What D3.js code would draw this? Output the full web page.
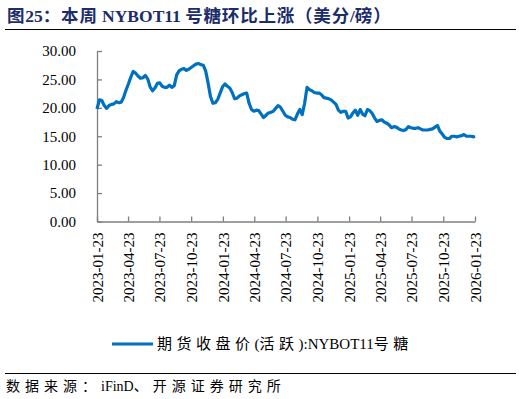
<!DOCTYPE html>
<html>
<head>
<meta charset="utf-8">
<script src="https://cdn.jsdelivr.net/npm/d3@7"></script>
<style>
  body { margin: 0; background: #fff; }
  svg { display: block; }
</style>
</head>
<body>
<svg id="chart"></svg>
<script>
// NYBOT11 sugar futures, weekly closes (US cents/lb)
const startDate = '2023-01-23';
const lastDate = '2026-01-23';
const lastValue = 15.0;
const weeklyValues = [
  19.8, 21.4, 21.3, 20.4, 19.9, 20.4, 20.6, 20.7, 21.1, 20.9,
  21.0, 21.8, 23.1, 24.2, 25.4, 26.4, 26.1, 25.6, 25.2, 25.3,
  25.7, 25.1, 23.7, 23.0, 23.5, 24.3, 24.4, 23.8, 23.6, 23.6,
  24.0, 23.6, 23.9, 25.8, 26.5, 26.8, 26.9, 26.6, 26.8, 27.1,
  27.4, 27.7, 27.8, 27.6, 27.5, 26.5, 24.4, 22.0, 20.8, 20.9,
  21.5, 22.6, 23.7, 24.2, 23.8, 23.5, 22.7, 21.6, 21.7, 22.1,
  22.3, 22.5, 22.6, 20.8, 19.7, 19.4, 19.6, 19.5, 18.9, 18.3,
  18.7, 19.1, 19.2, 19.4, 19.9, 20.4, 20.1, 19.4, 18.7, 18.4,
  18.3, 18.0, 17.9, 18.9, 19.7, 18.8, 20.8, 23.6, 23.2, 23.0,
  22.7, 22.6, 22.6, 22.3, 21.8, 21.7, 21.6, 21.4, 21.0, 20.6,
  19.6, 19.2, 19.4, 19.4, 18.2, 18.4, 19.1, 19.6, 18.7, 19.7,
  18.9, 18.6, 19.7, 19.5, 19.0, 18.2, 17.6, 17.8, 17.9, 17.5,
  17.3, 17.0, 16.5, 16.7, 16.6, 16.3, 16.1, 16.0, 16.2, 16.7,
  16.5, 16.4, 16.4, 16.5, 16.3, 16.1, 16.1, 16.1, 16.2, 16.3,
  16.6, 16.9, 15.9, 15.4, 14.8, 14.6, 14.6, 15.0, 15.0, 14.9,
  15.0, 15.1, 15.3, 15.0, 15.0, 15.0, 14.9
];
const xTickDates = [
  '2023-01-23', '2023-04-23', '2023-07-23', '2023-10-23',
  '2024-01-23', '2024-04-23', '2024-07-23', '2024-10-23',
  '2025-01-23', '2025-04-23', '2025-07-23', '2025-10-23', '2026-01-23'
];
const yTicks = [0, 5, 10, 15, 20, 25, 30];

const titleText = '图25：本周 NYBOT11 号糖环比上涨（美分/磅）';
const seriesName = '期货收盘价(活跃):NYBOT11号糖';
const sourceText = '数据来源：iFinD、开源证券研究所';

const parseDate = d3.timeParse('%Y-%m-%d');
const start = parseDate(startDate);
const data = weeklyValues.map((v, i) => ({ date: d3.timeWeek.offset(start, i), value: v }));
data.push({ date: parseDate(lastDate), value: lastValue });

const width = 522;
const height = 399;
const margin = { top: 51, left: 97 };
const chartWidth = 475 - margin.left;
const chartHeight = 221.5 - margin.top;

const serif = '"Times New Roman", "Liberation Serif", "Noto Sans CJK SC", serif';

// split a string into CJK / latin runs so the CJK glyphs get the wider Song-style pitch
function addMixedText(sel, str, cjkSpacing) {
  const runs = str.match(/[\u3000-\u9fff\uff00-\uffef]+|[^\u3000-\u9fff\uff00-\uffef]+/g);
  runs.forEach(r => {
    const isCjk = /[\u3000-\u9fff\uff00-\uffef]/.test(r);
    sel.append('tspan')
      .style('letter-spacing', isCjk ? `${cjkSpacing}px` : '0px')
      .text(r);
  });
}

const svg = d3.select('#chart')
  .attr('width', width)
  .attr('height', height);

// Title
const title = svg.append('text')
  .attr('x', 7)
  .attr('y', 22)
  .style('font-family', serif)
  .style('font-size', '17.5px')
  .style('font-weight', 'bold')
  .style('fill', '#1c2d6b');
addMixedText(title, titleText, 0.8);

svg.append('line')
  .attr('x1', 5).attr('x2', 516)
  .attr('y1', 29.5).attr('y2', 29.5)
  .style('stroke', '#000')
  .style('stroke-width', 1);

const g = svg.append('g')
  .attr('transform', `translate(${margin.left},${margin.top})`);

const xScale = d3.scaleTime()
  .domain([parseDate(xTickDates[0]), parseDate(xTickDates[xTickDates.length - 1])])
  .range([0, chartWidth]);

const yScale = d3.scaleLinear()
  .domain([0, 30])
  .range([chartHeight, 0]);

// Y axis, ticks pointing inside
const yAxis = d3.axisLeft(yScale)
  .tickValues(yTicks)
  .tickFormat(d3.format('.2f'))
  .tickSizeInner(-5)
  .tickSizeOuter(0)
  .tickPadding(21);

g.append('g')
  .attr('class', 'axis y-axis')
  .call(yAxis);

// X axis, ticks pointing inside, labels rotated
const xAxis = d3.axisBottom(xScale)
  .tickValues(xTickDates.map(parseDate))
  .tickFormat(d3.timeFormat('%Y-%m-%d'))
  .tickSizeInner(-5)
  .tickSizeOuter(0);

const xG = g.append('g')
  .attr('class', 'axis x-axis')
  .attr('transform', `translate(0,${chartHeight})`)
  .call(xAxis);

xG.selectAll('text')
  .attr('transform', 'rotate(-90)')
  .attr('x', -11)
  .attr('y', 0)
  .attr('dy', '0.35em')
  .style('text-anchor', 'end');

g.selectAll('.axis path, .axis line')
  .style('stroke', '#7f7f7f')
  .style('stroke-width', 1.3);

g.selectAll('.axis text')
  .style('font-family', serif)
  .style('font-size', '15px')
  .style('fill', '#000');

// Price line
const line = d3.line()
  .x(d => xScale(d.date))
  .y(d => yScale(d.value));

g.append('path')
  .datum(data)
  .attr('d', line)
  .style('fill', 'none')
  .style('stroke', '#0070c0')
  .style('stroke-width', 3.2)
  .style('stroke-linejoin', 'round');

// Legend
const legend = svg.append('g')
  .attr('transform', 'translate(112,344)');

legend.append('line')
  .attr('x1', 0).attr('x2', 41)
  .attr('y1', 0).attr('y2', 0)
  .style('stroke', '#0070c0')
  .style('stroke-width', 3);

const legendText = legend.append('text')
  .attr('x', 45)
  .attr('y', 0)
  .attr('dy', '0.35em')
  .style('font-family', serif)
  .style('font-size', '15px')
  .style('fill', '#000');
addMixedText(legendText, seriesName, 4.5);

// Source
svg.append('line')
  .attr('x1', 5).attr('x2', 516)
  .attr('y1', 373.5).attr('y2', 373.5)
  .style('stroke', '#000')
  .style('stroke-width', 1);

const source = svg.append('text')
  .attr('x', 6)
  .attr('y', 391)
  .style('font-family', serif)
  .style('font-size', '14px')
  .style('fill', '#000');
addMixedText(source, sourceText, 5);
</script>
</body>
</html>
